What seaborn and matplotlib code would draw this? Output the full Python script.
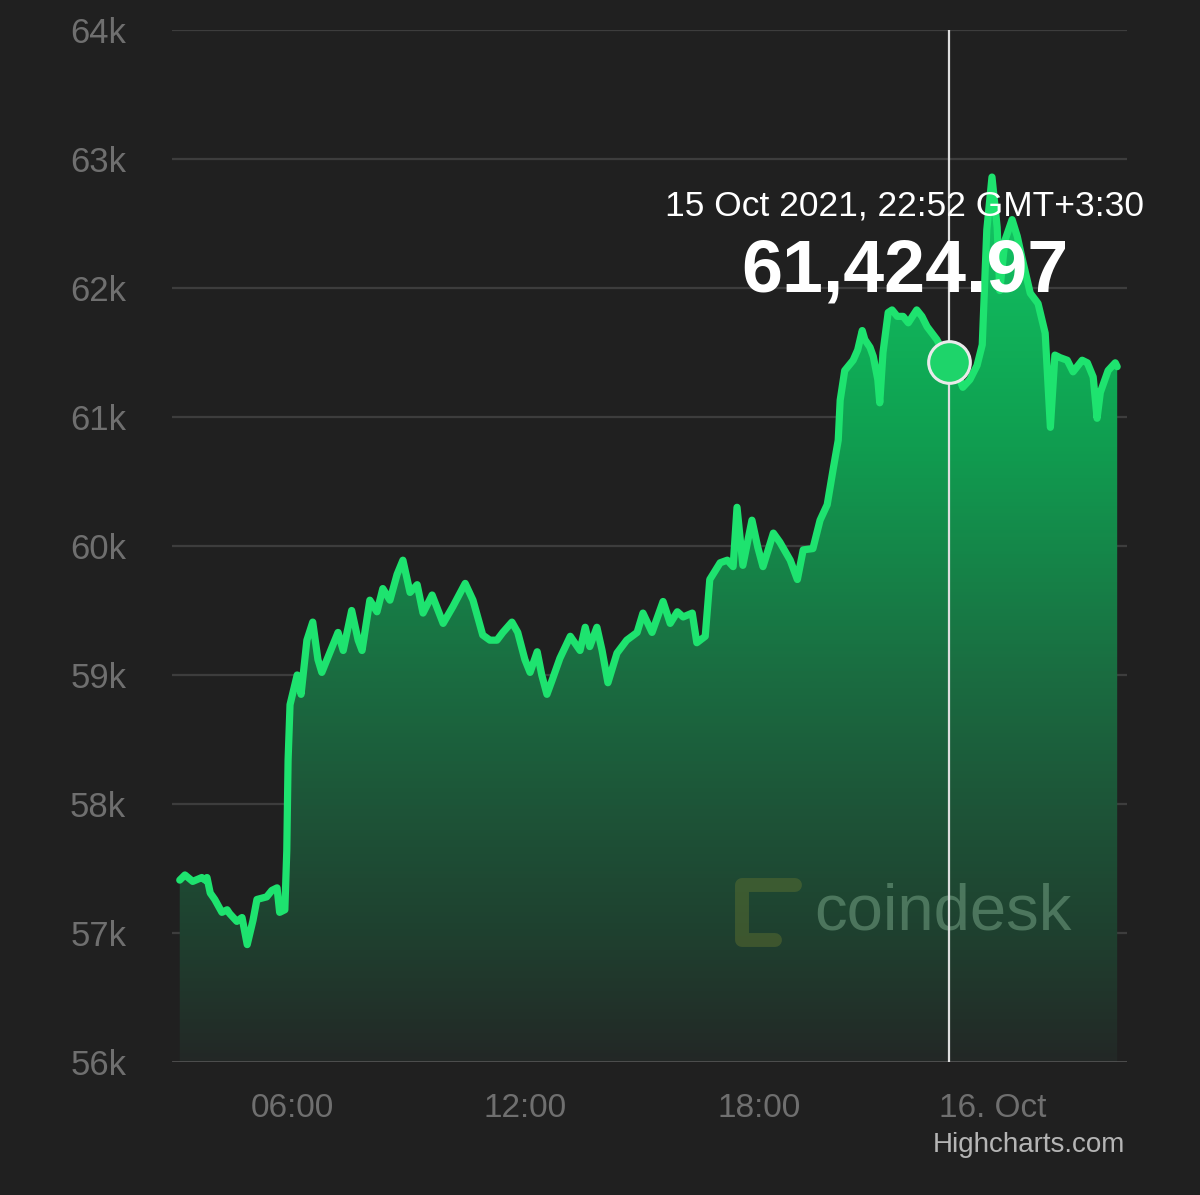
import matplotlib.pyplot as plt
import numpy as np
import pandas as pd
import seaborn as sns
from matplotlib.colors import LinearSegmentedColormap

# BTC price, 15 Oct 2021 (minutes after midnight, local time GMT+3:30)
minutes = [187, 195, 207, 221, 226, 229, 234, 241, 252, 260, 264, 275, 283, 291,
           300, 306, 321, 329, 337, 341, 349, 352, 354, 357, 368, 374, 383, 392,
           400, 406, 414, 423, 431, 439, 452, 462, 468, 480, 491, 500, 511, 522,
           531, 542, 553, 562, 576, 593, 608, 627, 639, 654, 665, 676, 685, 699,
           708, 719, 727, 738, 745, 753, 761, 773, 789, 804, 812, 819, 830, 838,
           847, 861, 876, 892, 901, 915, 932, 943, 954, 963, 977, 984, 997, 1004,
           1020, 1031, 1040, 1046, 1055, 1069, 1078, 1086, 1102, 1112, 1128, 1139,
           1148, 1163, 1174, 1185, 1194, 1202, 1205, 1212, 1225, 1232, 1239, 1243,
           1251, 1256, 1263, 1266, 1271, 1279, 1285, 1293, 1302, 1310, 1323, 1331,
           1339, 1354, 1372, 1377, 1385, 1394, 1405, 1416, 1424, 1431, 1439, 1447,
           1451, 1459, 1470, 1478, 1485, 1498, 1510, 1521, 1529, 1536, 1544, 1555,
           1564, 1578, 1586, 1595, 1601, 1606, 1618, 1629, 1632]
price = [57410, 57450, 57400, 57430, 57410, 57430, 57310, 57260, 57160, 57180,
         57150, 57090, 57120, 56910, 57100, 57260, 57280, 57330, 57350, 57160,
         57180, 57640, 58340, 58770, 59000, 58850, 59270, 59410, 59120, 59020,
         59120, 59230, 59330, 59190, 59500, 59270, 59190, 59580, 59490, 59670,
         59580, 59780, 59890, 59640, 59700, 59480, 59620, 59400, 59530, 59710,
         59580, 59310, 59270, 59270, 59330, 59410, 59330, 59120, 59020, 59180,
         59000, 58850, 58960, 59130, 59300, 59190, 59370, 59220, 59370, 59190,
         58940, 59170, 59270, 59330, 59480, 59330, 59570, 59400, 59490, 59450,
         59480, 59250, 59300, 59740, 59870, 59890, 59840, 60300, 59850, 60200,
         59990, 59840, 60100, 60030, 59890, 59740, 59970, 59980, 60200, 60320,
         60590, 60820, 61130, 61360, 61440, 61520, 61670, 61600, 61540, 61470,
         61290, 61110, 61500, 61810, 61830, 61780, 61780, 61730, 61830, 61780,
         61700, 61600, 61424.97, 61400, 61350, 61230, 61290, 61400, 61560, 62450,
         62860, 62470, 61980, 62370, 62530, 62400, 62240, 61960, 61880, 61650,
         60920, 61480, 61460, 61440, 61350, 61440, 61420, 61310, 60990, 61190,
         61360, 61420, 61390]

y_ticks = [56000, 57000, 58000, 59000, 60000, 61000, 62000, 63000, 64000]
y_tick_labels = ["56k", "57k", "58k", "59k", "60k", "61k", "62k", "63k", "64k"]
x_ticks = [360, 720, 1080, 1440]
x_tick_labels = ["06:00", "12:00", "18:00", "16. Oct"]

hover_minute = 1372
hover_price = 61424.97
hover_title = "15 Oct 2021, 22:52 GMT+3:30"
hover_value = "61,424.97"

df = pd.DataFrame({"minute": minutes, "price": price})

bg = "#202020"
sns.set_theme(style="dark", rc={"axes.facecolor": bg, "figure.facecolor": bg})
plt.rcParams["font.family"] = ["Liberation Sans", "DejaVu Sans"]

fig = plt.figure(figsize=(12, 11.95), dpi=100)
ax = fig.add_axes([0.1433, 0.1113, 0.7958, 0.8636])
ax.set_facecolor(bg)

x0, x1 = 175, 1647
ax.set_xlim(x0, x1)
ax.set_ylim(56000, 64000)

# gradient area under the line
top = max(price)
grad_cmap = LinearSegmentedColormap.from_list(
    "g", [(0.0, "#232826"), (0.14, "#1f402f"), (0.29, "#1d5538"),
          (0.44, "#1a6d41"), (0.73, "#0fa352"), (1.0, "#13c664")])
grad = np.linspace(0, 1, 256).reshape(-1, 1)
im = ax.imshow(grad, cmap=grad_cmap, aspect="auto", origin="lower",
               extent=[x0, x1, 56000, top], zorder=1, interpolation="bicubic")
poly = ax.fill_between(df["minute"], df["price"], 56000, color="none", lw=0)
im.set_clip_path(poly.get_paths()[0], transform=ax.transData)

# grid lines
for v in y_ticks[1:]:
    ax.axhline(v, color="#3d3d3d", lw=1.6, zorder=0.5)
ax.axhline(56000, color="#5a5a5a", lw=1.8, zorder=3)

sns.lineplot(data=df, x="minute", y="price", ax=ax, color="#1ee36f",
             lw=5.2, zorder=4, solid_joinstyle="round", solid_capstyle="round")

# crosshair + hover marker
ax.axvline(hover_minute, color="#dedede", lw=1.6, zorder=5)
ax.scatter([hover_minute], [hover_price], s=900, facecolor="#1ed46a",
           edgecolor="#eaeaea", linewidth=2.2, zorder=6)

ax.set_yticks(y_ticks, labels=y_tick_labels)
ax.set_xticks(x_ticks, labels=x_tick_labels)
ax.tick_params(axis="y", colors="#6f6f6f", labelsize=25, length=0, pad=33)
ax.tick_params(axis="x", colors="#6f6f6f", labelsize=24, length=0, pad=22)
for lbl in ax.get_yticklabels():
    lbl.set_color("#6f6f6f")
for lbl in ax.get_xticklabels():
    lbl.set_color("#6f6f6f")
ax.set_xlabel("")
ax.set_ylabel("")
ax.grid(False)
for s in ax.spines.values():
    s.set_visible(False)

# watermark
ax.text(0.673, 0.145, "coindesk", transform=ax.transAxes, fontsize=47,
        color="#7aa88a", alpha=0.5, ha="left", va="center", zorder=3)
ax.plot([0.652, 0.597, 0.597, 0.631], [0.1715, 0.1715, 0.1182, 0.1182],
        transform=ax.transAxes, color="#6b7a30", lw=10, alpha=0.4,
        solid_capstyle="round", solid_joinstyle="round", zorder=3)

# tooltip text
ax.text(0.7675, 0.8295, hover_title, transform=ax.transAxes, fontsize=25.5,
        color="white", ha="center", va="center", zorder=7)
ax.text(0.7675, 0.7655, hover_value, transform=ax.transAxes, fontsize=53,
        color="white", fontweight="bold", ha="center", va="center", zorder=7)

fig.text(1125 / 1200, 1 - 1145 / 1195, "Highcharts.com", fontsize=20,
         color="#b5b5b5", ha="right", va="center")

fig.savefig("out.png", dpi=100, facecolor=bg)
